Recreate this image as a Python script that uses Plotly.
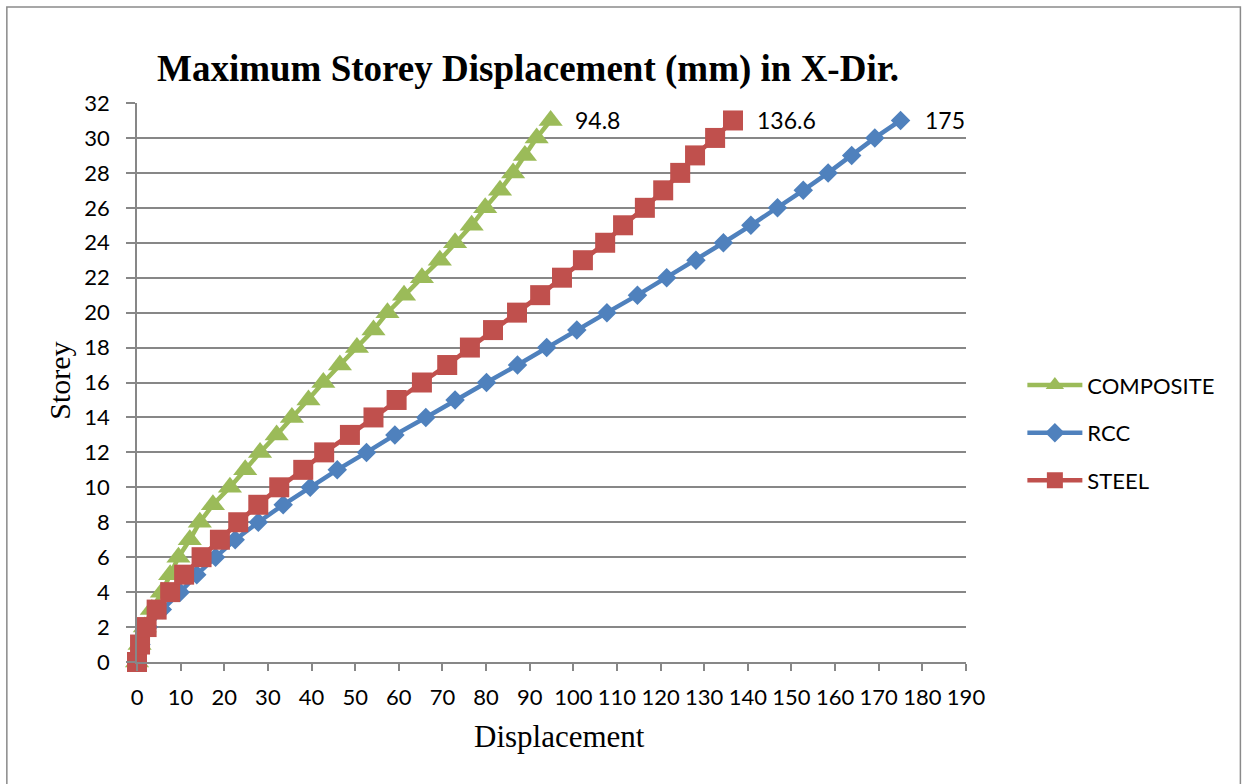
import plotly.graph_objects as go

# Storey levels and maximum displacement (mm) per structural system
storeys = list(range(0, 32))

rcc = [0, 0.9, 2.6, 5.8, 9.9, 13.7, 18.0, 22.5, 27.8, 33.5, 39.7, 45.9, 52.6, 59.1,
       66.2, 72.9, 80.1, 87.2, 93.9, 100.8, 107.7, 114.7, 121.4, 128.1, 134.4,
       140.7, 146.8, 152.7, 158.4, 163.8, 169.1, 175]

steel = [0, 0.7, 2.2, 4.5, 7.6, 10.8, 14.8, 19.0, 23.2, 27.8, 32.6, 38.1, 42.9, 48.8,
         54.2, 59.5, 65.3, 71.1, 76.3, 81.6, 87.1, 92.4, 97.4, 102.2, 107.3, 111.4,
         116.4, 120.6, 124.5, 127.9, 132.5, 136.6]

composite = [0, 0.6, 1.8, 3.4, 5.7, 7.6, 9.5, 12.1, 14.4, 17.4, 21.3, 24.8, 28.2, 32.0,
             35.5, 39.3, 42.7, 46.5, 50.4, 54.2, 57.4, 61.2, 65.3, 69.4, 72.9, 76.7,
             79.8, 83.2, 86.2, 88.9, 91.6, 94.8]

x_ticks = list(range(0, 191, 10))
y_ticks = list(range(0, 33, 2))

GRID = "#878787"
TICK_FONT = dict(family="Lato", size=22, color="#000000")

series = [
    # name, values, colour, marker symbol, marker size, legend position
    ("RCC", rcc, "#4F81BD", "diamond", 15, 2),
    ("COMPOSITE", composite, "#9BBB59", "triangle-up", 21, 1),
    ("STEEL", steel, "#C0504D", "square", 20, 3),
]

fig = go.Figure()
for name, vals, color, symbol, size, rank in series:
    fig.add_trace(go.Scatter(
        x=vals, y=storeys, name=name, mode="lines+markers",
        line=dict(color=color, width=4.5),
        marker=dict(symbol=symbol, size=size, color=color),
        cliponaxis=False, legendrank=rank, legendgroup=name,
    ))
    # value label at the top storey
    fig.add_annotation(
        x=vals[-1], y=storeys[-1], text=f"{vals[-1]:g}", showarrow=False,
        xanchor="left", yanchor="middle", xshift=22,
        font=dict(family="Lato", size=23, color="#000000"),
    )

# Title and axis titles
fig.add_annotation(
    x=0.472, y=1.06, xref="paper", yref="paper", showarrow=False,
    text="<b>Maximum Storey Displacement (mm) in X-Dir.</b>",
    xanchor="center", yanchor="middle",
    font=dict(family="Liberation Serif", size=37, color="#000000"),
)
fig.add_annotation(
    x=0.51, y=-0.134, xref="paper", yref="paper", showarrow=False,
    text="Displacement", xanchor="center", yanchor="middle",
    font=dict(family="Liberation Serif", size=31, color="#000000"),
)
fig.add_annotation(
    x=-0.093, y=0.503, xref="paper", yref="paper", showarrow=False,
    text="Storey", textangle=-90, xanchor="center", yanchor="middle",
    font=dict(family="Liberation Serif", size=30, color="#000000"),
)

# Chart border
fig.add_shape(
    type="rect", xref="paper", yref="paper",
    x0=-0.157, x1=1.331, y0=-0.25, y1=1.1717,
    line=dict(color="#8a8a8a", width=1.5), fillcolor="rgba(0,0,0,0)",
    layer="below",
)

fig.update_xaxes(
    range=[0, 190], tickvals=x_ticks, showgrid=False, zeroline=False,
    showline=True, linecolor=GRID, linewidth=1.5,
    ticks="outside", ticklen=7, tickcolor=GRID, tickwidth=1.5,
    tickfont=TICK_FONT, ticklabelstandoff=8,
)
fig.update_yaxes(
    range=[0, 32], tickvals=y_ticks, showgrid=True, gridcolor=GRID, gridwidth=1.5,
    zeroline=False, showline=True, linecolor=GRID, linewidth=1.5,
    ticks="outside", ticklen=9, tickcolor=GRID, tickwidth=1.5,
    tickfont=TICK_FONT, ticklabelstandoff=12,
)

fig.update_layout(
    width=1242, height=784,
    margin=dict(l=137, r=276, t=103, b=122),
    paper_bgcolor="white", plot_bgcolor="white",
    showlegend=True,
    legend=dict(
        x=1.068, y=0.41, xanchor="left", yanchor="middle",
        font=dict(family="Lato", size=22, color="#000000"),
        itemwidth=55, tracegroupgap=16, bgcolor="rgba(0,0,0,0)",
    ),
)

fig.write_html("out.html")
